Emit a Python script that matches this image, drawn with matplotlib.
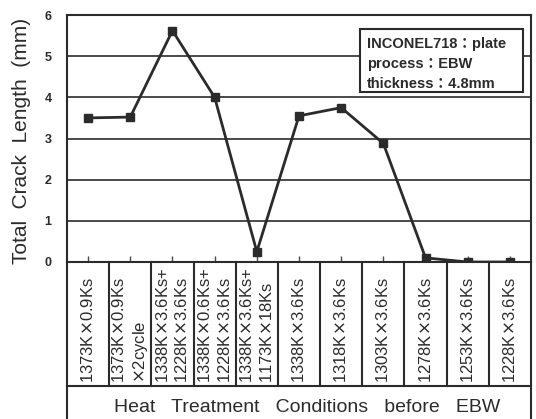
import matplotlib
matplotlib.use("Agg")
import matplotlib.pyplot as plt
from matplotlib.patches import Rectangle

plt.rcParams['font.family'] = ['Liberation Sans', 'Noto Sans CJK JP', 'DejaVu Sans']
plt.rcParams['mathtext.fontset'] = 'dejavusans'

conditions = [
    '1373K$\\times$0.9Ks',
    '1373K$\\times$0.9Ks\n$\\times$2cycle',
    '1338K$\\times$3.6Ks+\n1228K$\\times$3.6Ks',
    '1338K$\\times$0.6Ks+\n1228K$\\times$3.6Ks',
    '1338K$\\times$3.6Ks+\n1173K$\\times$18Ks',
    '1338K$\\times$3.6Ks',
    '1318K$\\times$3.6Ks',
    '1303K$\\times$3.6Ks',
    '1278K$\\times$3.6Ks',
    '1253K$\\times$3.6Ks',
    '1228K$\\times$3.6Ks',
]
crack_length = [3.50, 3.52, 5.62, 4.00, 0.25, 3.55, 3.75, 2.88, 0.10, 0.0, 0.0]
y_ticks = [0, 1, 2, 3, 4, 5, 6]
info_lines = ['INCONEL718：plate', 'process：EBW', 'thickness：4.8mm']

ink = '#2b2b2b'
grid = '#4a4a4a'

fig = plt.figure(figsize=(5.36, 4.19), dpi=100)
ax = fig.add_axes([67 / 536, 1 - 262 / 419, 464 / 536, 247 / 419])

x = list(range(1, len(conditions) + 1))
ax.plot(x, crack_length, color=ink, lw=2, marker='s', ms=6, mfc=ink, mec=ink, zorder=5)

ax.set_xlim(0.5, len(conditions) + 0.5)
ax.set_ylim(0, 6)
ax.set_yticks(y_ticks)
for yv in y_ticks[1:-1]:
    ax.axhline(yv, color=grid, lw=1.4, zorder=1)
ax.tick_params(axis='y', length=0, pad=11, labelsize=9, labelcolor=ink)
for lab in ax.get_yticklabels():
    lab.set_fontweight('bold')
ax.set_xticks(x)
ax.tick_params(axis='x', direction='in', length=4, width=1, color=grid, labelbottom=False)
for s in ax.spines.values():
    s.set_color(ink)
    s.set_linewidth(1.5)

# label table under the plot
tr = ax.get_xaxis_transform()
y_tab = (262 - 386) / 247
y_end = (262 - 419) / 247
for k in range(len(conditions) + 1):
    xe = 0.5 + k
    bottom = y_end if k in (0, len(conditions)) else y_tab
    ax.plot([xe, xe], [0, bottom], transform=tr, color=ink, lw=1.5, clip_on=False)
ax.plot([0.5, len(conditions) + 0.5], [y_tab, y_tab], transform=tr, color=ink, lw=1.5, clip_on=False)

for xi, lab in zip(x, conditions):
    ax.text(xi, (262 - 383) / 247, lab, transform=tr, rotation=90, ha='center', va='bottom',
            multialignment='left', linespacing=1.3, fontsize=12, color=ink)

ax.text(307 / 536, 1 - 407 / 419, 'Heat   Treatment   Conditions   before   EBW',
        transform=fig.transFigure, ha='center', va='center', fontsize=14, color=ink)

fig.text(22 / 536, 1 - 141 / 419, 'Total  Crack  Length  (mm)', rotation=90,
         ha='center', va='center', fontsize=15, color=ink)

# info box
fig.patches.append(Rectangle((360 / 536, 1 - 92 / 419), 163 / 536, 63 / 419,
                             transform=fig.transFigure, fill=True, facecolor='white',
                             edgecolor=ink, lw=1.5, zorder=6))
for i, line in enumerate(info_lines):
    fig.text(367 / 536, 1 - (44 + 20 * i) / 419, line, ha='left', va='center',
             fontsize=10.5, fontweight='bold', color=ink, zorder=7)

fig.savefig('out.png', dpi=100)
